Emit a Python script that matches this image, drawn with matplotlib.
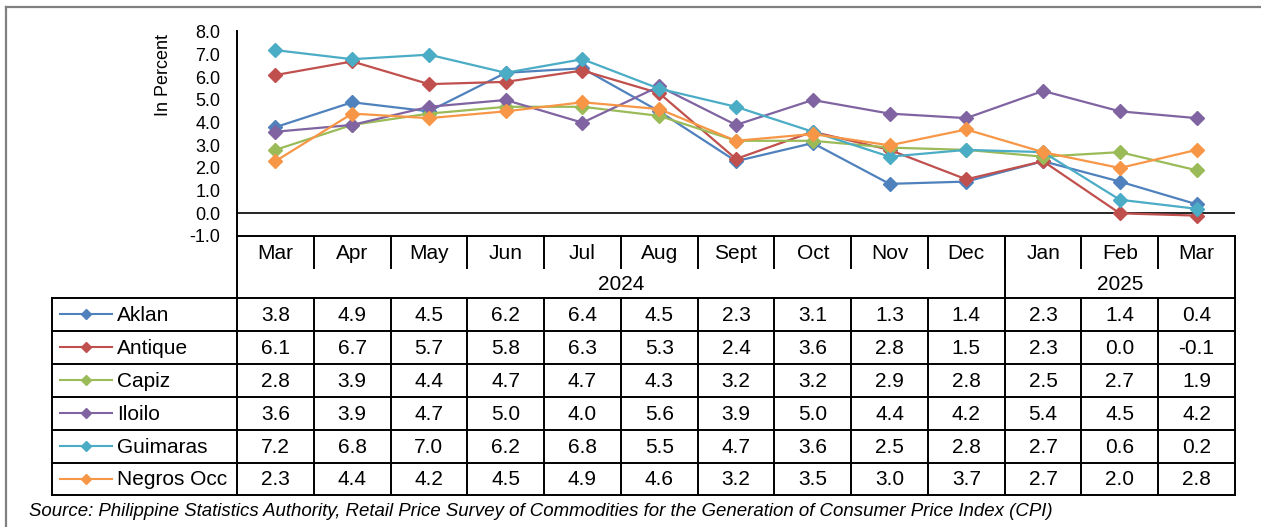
import matplotlib.pyplot as plt

plt.rcParams['font.family'] = ['Liberation Sans', 'DejaVu Sans']

# Data
months = ['Mar', 'Apr', 'May', 'Jun', 'Jul', 'Aug', 'Sept', 'Oct', 'Nov', 'Dec', 'Jan', 'Feb', 'Mar']
years = ['2024', '2025']
year_spans = [(0, 10), (10, 13)]
provinces = ['Aklan', 'Antique', 'Capiz', 'Iloilo', 'Guimaras', 'Negros Occ']
aklan = [3.8, 4.9, 4.5, 6.2, 6.4, 4.5, 2.3, 3.1, 1.3, 1.4, 2.3, 1.4, 0.4]
antique = [6.1, 6.7, 5.7, 5.8, 6.3, 5.3, 2.4, 3.6, 2.8, 1.5, 2.3, 0.0, -0.1]
capiz = [2.8, 3.9, 4.4, 4.7, 4.7, 4.3, 3.2, 3.2, 2.9, 2.8, 2.5, 2.7, 1.9]
iloilo = [3.6, 3.9, 4.7, 5.0, 4.0, 5.6, 3.9, 5.0, 4.4, 4.2, 5.4, 4.5, 4.2]
guimaras = [7.2, 6.8, 7.0, 6.2, 6.8, 5.5, 4.7, 3.6, 2.5, 2.8, 2.7, 0.6, 0.2]
negros = [2.3, 4.4, 4.2, 4.5, 4.9, 4.6, 3.2, 3.5, 3.0, 3.7, 2.7, 2.0, 2.8]
series = [aklan, antique, capiz, iloilo, guimaras, negros]
colors = ['#4F81BD', '#C0504D', '#9BBB59', '#8064A2', '#4BACC6', '#F79646']

# layout in pixels
W, H = 1261, 527
x_left, x_right = 237, 1235      # month columns
leg_left = 52                    # legend column left edge
y_top, y_bot = 32, 236           # 8.0 and -1.0
month_row = (236, 268)
year_row = (268, 298)
row_h = 32.9
col_w = (x_right - x_left) / len(months)

fig = plt.figure(figsize=(W / 100, H / 100), dpi=100)

# overlay in pixel coordinates for the table and frame
tab = fig.add_axes([0, 0, 1, 1], zorder=0)
tab.set_xlim(0, W)
tab.set_ylim(H, 0)
tab.axis('off')

lk = dict(color='black', lw=1.4, solid_capstyle='projecting')

# frame
tab.plot([6, W], [7, 7], color='#808080', lw=1.6)
tab.plot([6, 6], [7, H], color='#808080', lw=1.6)

# y axis line through header
tab.plot([x_left, x_left], [y_top - 1, year_row[1]], **lk)

# month row
tab.plot([x_left, x_right], [month_row[0], month_row[0]], **lk)
tab.plot([x_right, x_right], [month_row[0], year_row[1]], **lk)
for i, m in enumerate(months):
    cx = x_left + (i + 0.5) * col_w
    tab.text(cx, (month_row[0] + month_row[1]) / 2 + 1.5, m, ha='center', va='center', fontsize=15)
    if i > 0:
        tab.plot([x_left + i * col_w] * 2, [month_row[0], month_row[1]], **lk)

# year row
for y, (a, b) in zip(years, year_spans):
    cx = x_left + (a + b) / 2 * col_w
    tab.text(cx, (year_row[0] + year_row[1]) / 2 + 1, y, ha='center', va='center', fontsize=15)
    if a > 0:
        tab.plot([x_left + a * col_w] * 2, [month_row[0], year_row[1]], **lk)

# data table
n = len(provinces)
t_top = year_row[1]
t_bot = t_top + n * row_h
tab.plot([leg_left, x_right], [t_top, t_top], **lk)
for r in range(1, n + 1):
    tab.plot([leg_left, x_right], [t_top + r * row_h] * 2, **lk)
tab.plot([leg_left, leg_left], [t_top, t_bot], **lk)
for c in range(len(months) + 1):
    tab.plot([x_left + c * col_w] * 2, [t_top, t_bot], **lk)

for r, (name, vals, col) in enumerate(zip(provinces, series, colors)):
    cy = t_top + (r + 0.5) * row_h
    tab.plot([60, 112], [cy, cy], color=col, lw=1.5)
    tab.plot([86], [cy], marker='D', ms=5.5, color=col, lw=0)
    tab.text(117, cy + 1, name, ha='left', va='center', fontsize=15)
    for i, v in enumerate(vals):
        cx = x_left + (i + 0.5) * col_w
        tab.text(cx, cy + 1, f'{v:.1f}', ha='center', va='center', fontsize=15)

# source note
tab.text(29, 512, 'Source: Philippine Statistics Authority, Retail Price Survey of Commodities '
         'for the Generation of Consumer Price Index (CPI)',
         ha='left', va='center', fontsize=13.4, style='italic')

# line chart
ax = fig.add_axes([x_left / W, 1 - y_bot / H, (x_right - x_left) / W, (y_bot - y_top) / H], zorder=2)
ax.patch.set_visible(False)
x = list(range(len(months)))
for vals, col in zip(series, colors):
    ax.plot(x, vals, color=col, lw=1.6, marker='D', ms=7, clip_on=False)
ax.axhline(0, color='black', lw=1.2, zorder=0)
ax.set_xlim(-0.5, len(months) - 0.5)
ax.set_ylim(-1, 8)
ax.set_xticks([])
ax.set_yticks(range(-1, 9))
ax.set_yticklabels([f'{v:.1f}' for v in range(-1, 9)], fontsize=13)
ax.tick_params(axis='y', length=0, pad=12)
for s in ax.spines.values():
    s.set_visible(False)
ax.set_ylabel('In Percent', fontsize=13, labelpad=0)
ax.yaxis.set_label_coords(-(x_left - 172) / (x_right - x_left), 1 - (75 - y_top) / (y_bot - y_top))

fig.savefig('out.png', dpi=100)
